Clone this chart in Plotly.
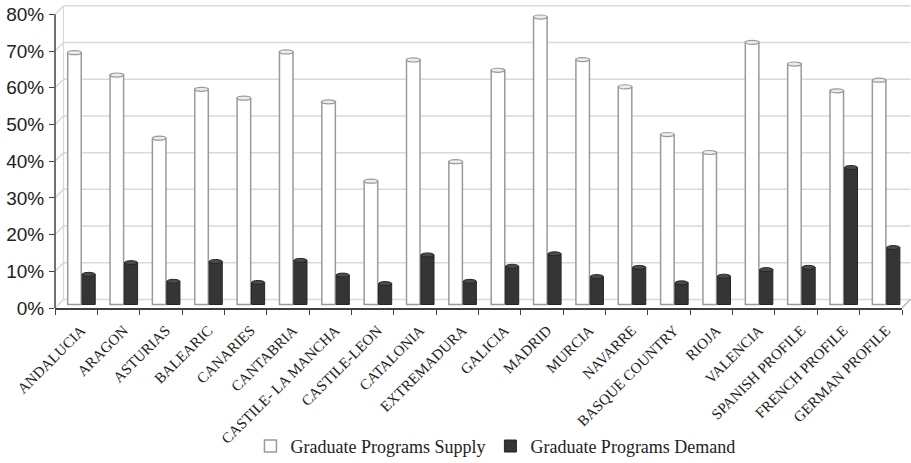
import plotly.graph_objects as go

# Graduate programme supply vs. demand by Spanish region, plus national profiles
categories = [
    "ANDALUCIA", "ARAGON", "ASTURIAS", "BALEARIC", "CANARIES", "CANTABRIA",
    "CASTILE- LA MANCHA", "CASTILE-LEON", "CATALONIA", "EXTREMADURA", "GALICIA",
    "MADRID", "MURCIA", "NAVARRE", "BASQUE COUNTRY", "RIOJA", "VALENCIA",
    "SPANISH PROFILE", "FRENCH PROFILE", "GERMAN PROFILE",
]
supply = [68.6, 62.5, 45.3, 58.6, 56.2, 68.8, 55.2, 33.6, 66.6, 38.9,
          63.8, 78.3, 66.7, 59.3, 46.3, 41.4, 71.4, 65.5, 58.2, 61.1]
demand = [8.2, 11.4, 6.3, 11.7, 6.0, 12.0, 8.0, 5.7, 13.5, 6.3,
          10.4, 13.8, 7.6, 10.1, 5.9, 7.7, 9.5, 10.1, 37.3, 15.5]
y_ticks = [0, 10, 20, 30, 40, 50, 60, 70, 80]
y_tick_text = [f"{v}%" for v in y_ticks]

idx = list(range(len(categories)))

W, H = 911, 463
M_L, M_R, M_T, M_B = 55, 9, 4, 155
plot_w = W - M_L - M_R
plot_h = H - M_T - M_B
Y_MAX = 82.8
px_per_unit = plot_h / Y_MAX

# pseudo-3D depth: back wall sits up and to the right of the front axes
depth_px = 8.5
depth_x = depth_px / plot_w          # paper units
depth_y = depth_px / px_per_unit     # data units
bar_shift_x = 5.5 / (plot_w / len(categories))   # category units
bar_shift_y = 3.5 / px_per_unit

SUPPLY_LINE = "#9a9a9a"
DEMAND_FILL = "#353535"
GRID = "#d9d9d9"
AXIS = "#404040"
SERIF = "Liberation Serif, Times New Roman, serif"
SANS = "Liberation Sans, Arial, sans-serif"

fig = go.Figure()
fig.add_trace(go.Bar(
    x=idx, y=supply, name="Graduate Programs Supply",
    xaxis="x2", yaxis="y3",
    offset=-0.33, width=0.32,
    marker=dict(color="white", line=dict(color=SUPPLY_LINE, width=1.5)),
))
fig.add_trace(go.Bar(
    x=idx, y=demand, name="Graduate Programs Demand",
    xaxis="x2", yaxis="y3",
    offset=0.01, width=0.31,
    marker=dict(color=DEMAND_FILL, line=dict(color="#262626", width=1)),
))

shapes = []
# back-wall gridlines with their slanted run across the left wall
for v in y_ticks:
    shapes.append(dict(type="line", xref="paper", yref="y", layer="below",
                       x0=0, y0=v, x1=depth_x, y1=v + depth_y,
                       line=dict(color=GRID, width=1.5)))
    shapes.append(dict(type="line", xref="paper", yref="y", layer="below",
                       x0=depth_x, y0=v + depth_y, x1=1 + depth_x, y1=v + depth_y,
                       line=dict(color=GRID, width=1.5)))
# back-left wall edge
shapes.append(dict(type="line", xref="paper", yref="y", layer="below",
                   x0=depth_x, y0=depth_y, x1=depth_x, y1=y_ticks[-1] + depth_y,
                   line=dict(color=GRID, width=1.2)))
# right floor edge
shapes.append(dict(type="line", xref="paper", yref="y", layer="below",
                   x0=1, y0=0, x1=1 + depth_x, y1=depth_y,
                   line=dict(color="#b0b0b0", width=1.2)))
# vertical value axis line
shapes.append(dict(type="line", xref="paper", yref="y",
                   x0=0, y0=0, x1=0, y1=y_ticks[-1],
                   line=dict(color=AXIS, width=1.5)))

# elliptical cylinder caps on top of each bar
cap_h = 0.55
for i, (s, d) in enumerate(zip(supply, demand)):
    shapes.append(dict(type="circle", xref="x2", yref="y3",
                       x0=i - 0.33, x1=i - 0.01, y0=s - cap_h, y1=s + cap_h,
                       fillcolor="#ececec", line=dict(color=SUPPLY_LINE, width=1.2)))
    shapes.append(dict(type="circle", xref="x2", yref="y3",
                       x0=i + 0.01, x1=i + 0.32, y0=d - cap_h, y1=d + cap_h,
                       fillcolor="#4a4a4a", line=dict(color="#262626", width=1)))

n = len(categories)
fig.update_layout(
    template="none",
    width=W, height=H,
    margin=dict(l=M_L, r=M_R, t=M_T, b=M_B, autoexpand=False),
    paper_bgcolor="white", plot_bgcolor="rgba(0,0,0,0)",
    barmode="overlay",
    showlegend=True,
    legend=dict(orientation="h", x=0.52, xanchor="center", y=-0.455, yanchor="middle",
                font=dict(family=SERIF, size=18, color="#222"),
                itemwidth=30, traceorder="normal", bgcolor="rgba(0,0,0,0)"),
    xaxis=dict(
        range=[-0.5, n - 0.5], tickmode="array", tickvals=idx, ticktext=categories,
        tickangle=-45, ticks="", showgrid=False, zeroline=False,
        showline=True, linecolor=AXIS, linewidth=1.5, automargin=False,
        tickfont=dict(family=SERIF, size=15, color="#222"),
        ticklabelstandoff=6, ticklabelshift=5,
        minor=dict(tickmode="array", tickvals=[i - 0.5 for i in range(n + 1)],
                   ticks="outside", ticklen=5, tickwidth=1.2, tickcolor=AXIS,
                   showgrid=False),
    ),
    yaxis=dict(
        range=[0, Y_MAX], tickmode="array", tickvals=y_ticks, ticktext=y_tick_text,
        ticks="outside", ticklen=5, tickwidth=1.2, tickcolor=AXIS,
        showgrid=False, zeroline=False, showline=False, automargin=False,
        tickfont=dict(family=SANS, size=19, color="#222"),
        ticklabelstandoff=1,
    ),
    xaxis2=dict(overlaying="x", anchor="y3", visible=False,
                range=[-0.5 - bar_shift_x, n - 0.5 - bar_shift_x]),
    yaxis3=dict(overlaying="y", anchor="x2", visible=False,
                range=[-bar_shift_y, Y_MAX - bar_shift_y]),
    shapes=shapes,
)

fig.write_html("out.html")
